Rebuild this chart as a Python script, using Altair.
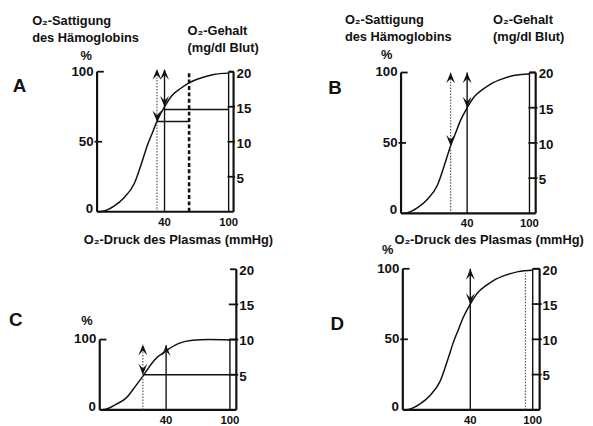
import altair as alt
import pandas as pd

# ---------------- values ----------------
# O2 dissociation curve (panels A, B, D): PO2 in mmHg, saturation in %
PO2 = [0, 4, 10, 16, 22, 27, 30, 33, 36, 40, 47, 55, 63, 74, 86, 100]
SAT = [0, 0.5, 4, 10, 20, 37, 48, 57, 66, 75, 83, 88, 92, 95.5, 98, 99]
# panel C curve
PO2_C = [0, 3, 10, 16, 21, 26, 33, 40, 52, 65, 80, 100]
SAT_C = [0, 0.5, 8, 17, 32, 48, 71, 84, 94.5, 99, 100, 99.5]

X_TICKS = [40, 100]
SAT_TICKS = {"A": [0, 50, 100], "B": [0, 50, 100], "C": [0, 100], "D": [0, 50, 100]}
CONTENT_TICKS = [5, 10, 15, 20]
CONTENT_PER_PCT = {"A": 0.2, "B": 0.2, "C": 0.1, "D": 0.2}   # mg/dl per % saturation

# verticals: (PO2, top saturation %)
DOTTED = {"A": [(35.5, 101)], "B": [(30, 100)], "C": [(26, 93)], "D": [(93, 97)]}
SOLID = {"A": [(40, 101), (100, 100)], "B": [(40, 100), (100, 100)],
         "C": [(40, 92), (100, 100)], "D": [(40, 100), (100, 100)]}
THICK_DASHED = {"A": [(63, 100)], "B": [], "C": [], "D": []}
# horizontals: (saturation %, from PO2, to PO2 / None = content axis)
HLINES = {"A": [(73, 40, 100), (64.5, 35.5, 63)], "B": [], "C": [(50, 26, None)], "D": []}
UP = {"A": [(35.5, 102), (40, 102)], "B": [(30, 100), (40, 100)], "C": [(26, 93), (40, 92)], "D": [(40, 100)]}
DOWN = {"A": [(35.5, 64.5), (40, 75)], "B": [(30, 48), (40, 75)], "C": [(26, 50)], "D": [(40, 75)]}

# annotation texts in each panel's own data units (PO2, saturation %)
HEAD_LEFT = {
    "A": [(-38.5, 136, "O₂-Sattigung"), (-38.5, 124, "des Hämoglobins"),
          (61.5, 129, "O₂-Gehalt"), (61.5, 117, "(mg/dl Blut)")],
    "B": [(-34, 137, "O₂-Sattigung"), (-34, 125, "des Hämoglobins"),
          (65, 137, "O₂-Gehalt"), (65, 125, "(mg/dl Blut)"),
          (-4, -19, "O₂-Druck des Plasmas (mmHg)")],
    "C": [], "D": [],
}
HEAD_CENTER = {
    "A": [(-6.5, 111.5, "%"), (53, -20, "O₂-Druck des Plasmas (mmHg)")],
    "B": [(-8.7, 112.5, "%")],
    "C": [(-7.7, 127, "%")],
    "D": [(-9, 113.6, "%")],
}
LETTERS = {"A": (-46, 90), "B": (-40, 89), "C": (-50.6, 127), "D": (-38.8, 61)}

# ---------------- layout / style ----------------
FONT = "Liberation Sans"
INK = "#111111"
GREY = "#555555"
RIGHT_EDGE = 105  # PO2 stop of the scale where the content axis sits
LAYOUT = {
    "A": dict(L=90.3, X40=158.7, X100=223.7, R=228.7, Y0=203.7, YT=61.7),
    "B": dict(L=398.5, X40=465.5, X100=528.7, R=535.0, Y0=205.3, YT=62.5),
    "C": dict(L=93.0, X40=160.3, X100=225.0, R=231.5, Y0=404.5, YT=262.0),
    "D": dict(L=400.3, X40=468.7, X100=532.0, R=539.0, Y0=404.5, YT=261.5),
}
UP_SHAPE = "M0,0 L0.9,2.2 L0,1.25 L-0.9,2.2 Z"
DOWN_SHAPE = "M0,0 L0.9,-2.2 L0,-1.25 L-0.9,-2.2 Z"


def panel(key):
    lay = LAYOUT[key]
    f = CONTENT_PER_PCT[key]
    ymax = 20 / f
    xs = alt.Scale(domain=[0, 40, 100, RIGHT_EDGE],
                   range=[lay["L"], lay["X40"], lay["X100"], lay["R"]], nice=False, zero=False)
    ys = alt.Scale(domain=[0, ymax], range=[lay["Y0"], lay["YT"]], nice=False, zero=False)

    def X():
        return alt.X("x:Q", scale=xs, axis=None)

    def Y():
        return alt.Y("y:Q", scale=ys, axis=None)

    def rules(rows, **mk):
        df = pd.DataFrame(rows, columns=["x", "x2", "y", "y2"])
        return alt.Chart(df).mark_rule(**mk).encode(x=X(), x2="x2:Q", y=Y(), y2="y2:Q")

    def texts(rows, **mk):
        df = pd.DataFrame(rows, columns=["x", "y", "t"])
        return alt.Chart(df).mark_text(font=FONT, fontWeight="bold", color=INK, **mk).encode(
            x=X(), y=Y(), text="t:N")

    def points(rows, shape):
        df = pd.DataFrame(rows, columns=["x", "y"])
        return alt.Chart(df).mark_point(shape=shape, filled=True, size=100, color=INK,
                                        opacity=1, strokeWidth=0).encode(x=X(), y=Y())

    layers = []
    cx, cy = (PO2_C, SAT_C) if key == "C" else (PO2, SAT)
    layers.append(alt.Chart(pd.DataFrame({"x": cx, "y": cy})).mark_line(
        interpolate="monotone", color=INK, strokeWidth=1.5).encode(x=X(), y=Y()))

    # frame: left axis, bottom axis, content axis
    layers.append(rules([(0, 0, 0, 100), (0, RIGHT_EDGE, 0, 0), (RIGHT_EDGE, RIGHT_EDGE, 0, ymax)],
                        color=INK, strokeWidth=2.2))
    # ticks
    lt = [(0, 4, 100, 100)] + ([(-1.5, 3, 50, 50)] if 50 in SAT_TICKS[key] else [])
    rt = [(99, RIGHT_EDGE + 1.5, c / f, c / f) for c in CONTENT_TICKS[:-1]]
    rt += [(100, RIGHT_EDGE, ymax, ymax), (100, RIGHT_EDGE, 100, 100)]
    layers.append(rules(lt + rt, color=INK, strokeWidth=1.8))

    layers.append(rules([(x, x, 0, t) for x, t in SOLID[key]], color=INK, strokeWidth=1.4))
    layers.append(rules([(x, x, 0, t) for x, t in DOTTED[key]], color=GREY, strokeWidth=1.2,
                        strokeDash=[1.5, 1.5]))
    if THICK_DASHED[key]:
        layers.append(rules([(x, x, 0, t) for x, t in THICK_DASHED[key]], color=INK,
                            strokeWidth=2.6, strokeDash=[4, 2.5]))
    if HLINES[key]:
        layers.append(rules([(x0, RIGHT_EDGE if x1 is None else x1, y, y) for y, x0, x1 in HLINES[key]],
                            color=INK, strokeWidth=1.4))
    layers.append(points(UP[key], UP_SHAPE))
    layers.append(points(DOWN[key], DOWN_SHAPE))

    # tick labels
    layers.append(texts([(0, v, str(v)) for v in SAT_TICKS[key] if v != 0],
                        align="right", baseline="middle", dx=-3.5, fontSize=13.5))
    layers.append(texts([(0, 0, "0")], align="right", baseline="middle", dx=-4, dy=-3, fontSize=13.5))
    layers.append(texts([(RIGHT_EDGE, c / f, str(c)) for c in CONTENT_TICKS],
                        align="left", baseline="middle", dx=3, dy=2, fontSize=13.5))
    layers.append(texts([(v, 0, str(v)) for v in X_TICKS], align="center", baseline="middle",
                        dy=11, fontSize=11.5))
    # headers
    if HEAD_LEFT[key]:
        layers.append(texts(HEAD_LEFT[key], align="left", baseline="middle", fontSize=13))
    layers.append(texts(HEAD_CENTER[key], align="center", baseline="middle", fontSize=13))
    lx, ly = LETTERS[key]
    layers.append(texts([(lx, ly, key)], align="center", baseline="middle", fontSize=19))
    return alt.layer(*layers)


chart = alt.layer(*[panel(k) for k in ["A", "B", "C", "D"]]).resolve_scale(
    x="independent", y="independent"
).properties(
    width=585, height=418, padding=0,
    autosize=alt.AutoSizeParams(type="none"), background="white"
).configure_view(stroke=None)

chart.save("out.html", embed_options={"renderer": "svg", "actions": False})
